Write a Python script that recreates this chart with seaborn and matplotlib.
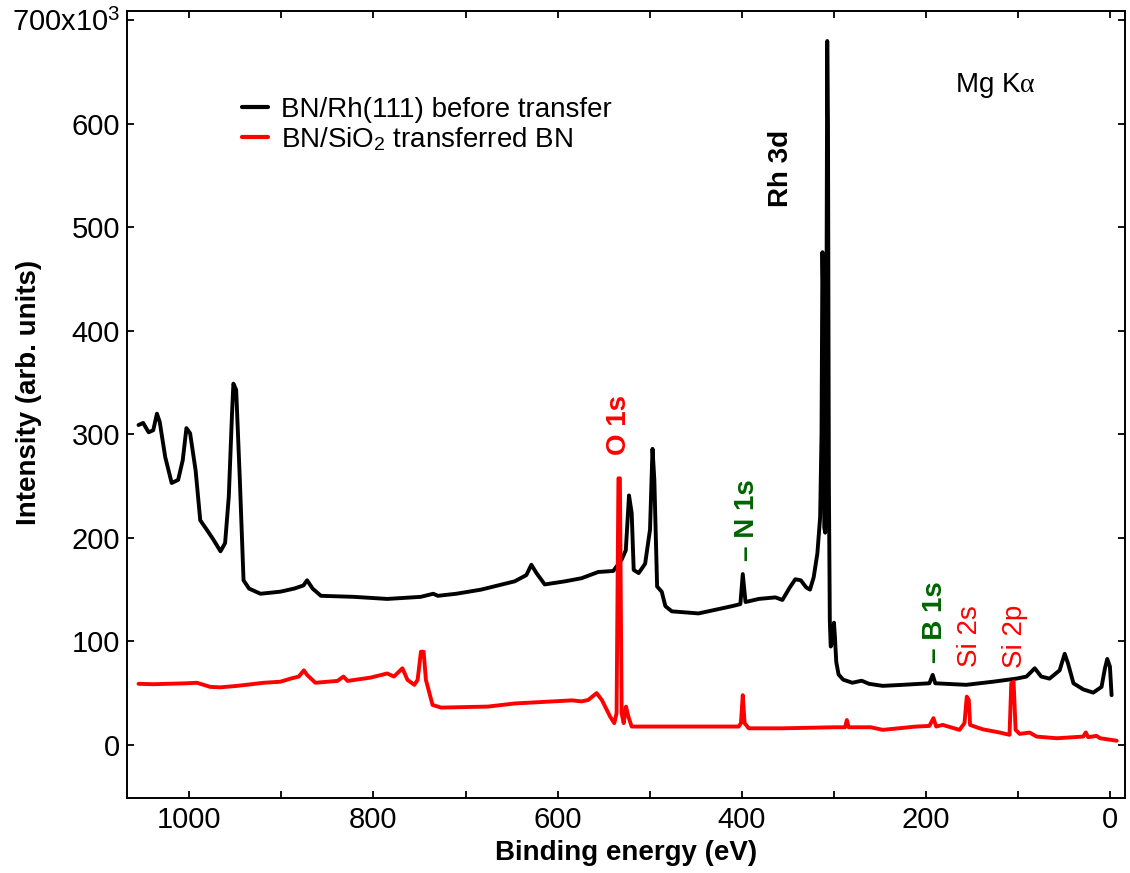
import matplotlib
matplotlib.use("Agg")
import matplotlib.pyplot as plt
import seaborn as sns
import pandas as pd

# ---------------- data ----------------
rh_ev = [1055, 1050, 1044, 1039, 1035, 1032, 1026, 1019, 1012, 1007, 1003, 999, 993, 988,
         981, 973.5, 966, 961, 957, 953.5, 952, 949, 945, 941, 935, 922.6, 901, 886, 876,
         872, 866, 857, 821, 785, 748.6, 735, 730, 710, 683, 646.6, 634, 628.5, 623, 614,
         592, 574, 556, 539.6, 530.5, 526, 522.5, 519.6, 517.4, 512, 505, 499.7, 497, 495,
         492, 487, 483, 476, 447, 410.7, 401.6, 399, 396, 381.6, 363.5, 356, 348, 342, 336,
         330, 326, 322, 318, 315, 313.5, 312.5, 311.5, 310.5, 309.5, 308.5, 307.3, 306.5,
         305.5, 304.5, 303.5, 301.5, 300, 299, 297.5, 295, 290, 280, 270, 262, 247, 225.5,
         196.4, 192.8, 190, 156.5, 127.5, 102, 91, 82, 75, 66, 55, 49.5, 46, 40, 29.4, 18.5,
         9.5, 5.8, 3.3, 0.4, -1.4]
rh_int = [309, 311, 302, 304, 320, 312, 278, 253, 256, 275, 306, 301, 265, 217,
          208, 198, 187, 195, 240, 320, 349, 343, 256, 159, 151, 146, 148, 151, 154,
          159, 151, 144, 143, 141, 143, 146, 144, 146, 150, 158, 164, 174, 166, 155,
          158, 161, 167, 168, 179, 188, 241, 224, 169, 166, 175, 208, 286, 256,
          153, 148, 134, 129, 127, 134, 136, 165, 138, 141, 142.5, 140, 152, 160, 159,
          152, 150, 162, 185, 220, 300, 476, 420, 210, 205, 300, 680, 600,
          250, 120, 95, 100, 118, 105, 80, 68, 63, 60, 62, 59, 57, 58,
          59.5, 67.6, 59.5, 58, 61, 64, 66, 74, 66, 64, 72, 88, 79, 59.5, 53.6, 50.5,
          56, 74, 83, 75.6, 48]

sio2_ev = [1055, 1039, 1002.5, 991.7, 977, 966, 948, 919, 901, 890, 881, 875.5, 872, 863,
           839, 832.5, 828, 803, 785, 777.7, 768.5, 763, 755.6, 752, 748.4, 745.5, 743,
           735.8, 726.6, 675.7, 646.6, 584.5, 574, 566.8, 557.7, 552, 543, 538.5, 536, 534,
           532.4, 530.5, 528.3, 525.8, 523.2, 519.6, 465, 403.4, 401, 399, 397, 392.5, 356,
           300, 288, 286, 284, 260, 247, 211, 196.4, 192, 189, 182, 163.7, 158.3, 155.8,
           153.6, 152.2, 147.4, 138.3, 120, 109.4, 107.5, 105, 102.8, 98.4, 87.6, 80, 58,
           29.4, 26.6, 24, 15, 11, -7]
sio2_int = [59, 58.6, 59.5, 60, 56, 55.6, 57, 60, 61, 64, 66, 72, 67.6, 60,
            61.8, 66, 61.8, 65, 69, 66, 74, 62.8, 58, 62.8, 90, 90, 62.8,
            38.6, 36, 37, 40, 43, 42, 43.4, 50, 43.4, 27.3, 21, 30.6, 257.5,
            257.5, 30.6, 21, 37, 27.3, 17.7, 17.7, 17.7, 21, 48, 21, 16, 16,
            17, 17, 24, 17, 17, 14.5, 17.7, 18.3, 25.8, 17.7, 19.3, 14.5, 21, 46.6,
            43.4, 19.3, 17.7, 15, 11.9, 9.7, 59.5, 61, 14.5, 10.6, 11.9, 8, 6.4,
            8, 12, 7.4, 8.7, 6.4, 4]

series_labels = ["BN/Rh(111) before transfer", "BN/SiO$_2$ transferred BN"]
series_colors = ["black", "#ff0000"]

x_ticks = list(range(1000, -1, -100))
x_ticklabels = ["1000", "", "800", "", "600", "", "400", "", "200", "", "0"]
y_ticks = [0, 100, 200, 300, 400, 500, 600, 700]
y_ticklabels = ["0", "100", "200", "300", "400", "500", "600", "700x10$^3$"]

# peak labels: (text, eV, intensity, colour, weight)
peak_labels = [
    ("Rh 3d", 358, 557, "black", "bold"),
    ("O 1s", 533, 309, "#ff0000", "bold"),
    ("\u2013 N 1s", 394, 217, "#006400", "bold"),
    ("\u2013 B 1s", 190, 119, "#006400", "bold"),
    ("Si 2s", 152.5, 105, "#ff0000", "normal"),
    ("Si 2p", 103.5, 105, "#ff0000", "normal"),
]

assert len(rh_ev) == len(rh_int)
assert len(sio2_ev) == len(sio2_int)

# ---------------- style ----------------
sns.set_theme(style="ticks")
plt.rcParams["font.family"] = ["Liberation Sans", "DejaVu Sans"]
plt.rcParams["text.color"] = "black"
plt.rcParams["axes.labelcolor"] = "black"
plt.rcParams["mathtext.fontset"] = "custom"
plt.rcParams["mathtext.rm"] = "Liberation Sans"
plt.rcParams["mathtext.it"] = "Liberation Serif"
plt.rcParams["mathtext.bf"] = "Liberation Sans:bold"

fig = plt.figure(figsize=(11.3, 8.73), dpi=100)
ax = fig.add_axes([0.1124, 0.0863, 0.8832, 0.9011])

df_rh = pd.DataFrame({"ev": rh_ev, "int": rh_int})
df_si = pd.DataFrame({"ev": sio2_ev, "int": sio2_int})

sns.lineplot(data=df_rh, x="ev", y="int", ax=ax, color=series_colors[0], lw=2.8,
             sort=False, estimator=None, label=series_labels[0])
sns.lineplot(data=df_si, x="ev", y="int", ax=ax, color=series_colors[1], lw=2.8,
             sort=False, estimator=None, label=series_labels[1])

ax.set_xlim(1067.5, -16)
ax.set_ylim(-51, 709)
ax.set_xticks(x_ticks)
ax.set_xticklabels(x_ticklabels)
ax.set_yticks(y_ticks)
ax.set_yticklabels(y_ticklabels)
ax.tick_params(direction="in", length=5, width=1.3, top=True, right=True,
               labelsize=21, colors="black")
ax.tick_params(axis="x", pad=6)
ax.tick_params(axis="y", pad=5)
for sp in ax.spines.values():
    sp.set_visible(True)
    sp.set_linewidth(1.4)
    sp.set_color("black")

ax.set_xlabel("Binding energy (eV)", fontsize=20, fontweight="bold", labelpad=4,
              color="black")
ax.set_ylabel("Intensity (arb. units)", fontsize=20, fontweight="bold", color="black")
ax.yaxis.set_label_coords(-0.085, 0.515)

leg = ax.legend(loc="upper left", bbox_to_anchor=(0.1152, 0.891), frameon=False,
                fontsize=20, handlelength=0.95, handletextpad=0.45, labelspacing=0.08,
                borderpad=0, borderaxespad=0)
for line in leg.get_lines():
    line.set_linewidth(3)
for t in leg.get_texts():
    t.set_color("black")

for txt, ev, val, col, wt in peak_labels:
    ax.text(ev, val, txt, rotation=90, ha="center", va="center", color=col,
            fontsize=20, fontweight=wt)

ax.text(168.8, 630.5, "Mg K$\\alpha$", ha="left", va="baseline", fontsize=20, color="black")

fig.savefig("out.png", dpi=100)
